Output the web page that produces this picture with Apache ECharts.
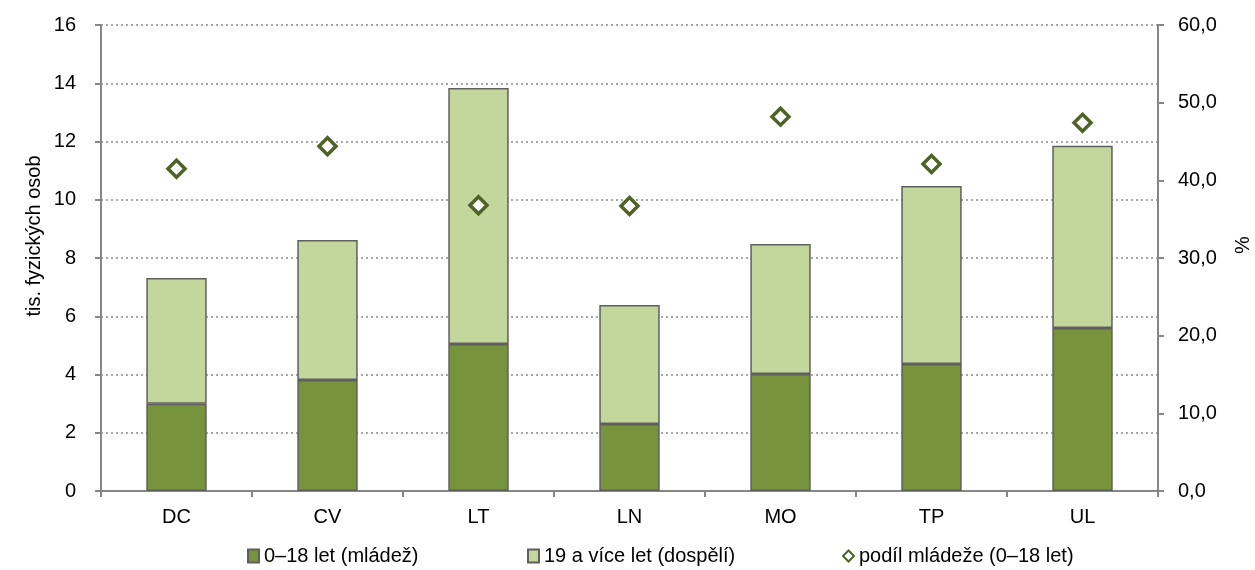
<!DOCTYPE html>
<html><head><meta charset="utf-8">
<script src="https://cdn.jsdelivr.net/npm/echarts@6/dist/echarts.min.js"></script>
<style>html,body{margin:0;padding:0;background:#fff}#c{width:1255px;height:570px}</style>
</head><body><div id="c"></div>
<script>
const categories = ['DC','CV','LT','LN','MO','TP','UL'];
const youth = [3.0, 3.81, 5.05, 2.30, 4.02, 4.36, 5.60];
const adults = [4.31, 4.81, 8.79, 4.09, 4.46, 6.11, 6.25];
const youthShare = [41.5, 44.4, 36.8, 36.7, 48.2, 42.1, 47.4];
const leftTicks = {min:0, max:16, interval:2};
const rightTicks = {min:0, max:60, interval:10};
const names = ['0–18 let (mládež)','19 a více let (dospělí)','podíl mládeže (0–18 let)'];
const leftTitle = 'tis. fyzických osob';
const rightTitle = '%';

const font = 'Liberation Sans, Arial, sans-serif';
const axisGray = '#868686';
const chart = echarts.init(document.getElementById('c'));
const legendBase = {top: 546, itemWidth: 11, itemHeight: 13, itemGap: 4, padding:0,
  textStyle:{fontFamily:font, fontSize:20, color:'#000'}};
chart.setOption({
  animation:false,
  grid:{left:101, right:97, top:25, bottom:79},
  graphic:[
    {type:'text', x:34, y:236, rotation:Math.PI/2,
     style:{text:leftTitle, font:'20px Liberation Sans, Arial, sans-serif', fill:'#000',
       align:'center', verticalAlign:'middle'}},
    {type:'text', x:1243, y:245, rotation:Math.PI/2,
     style:{text:rightTitle, font:'20px Liberation Sans, Arial, sans-serif', fill:'#000',
       align:'center', verticalAlign:'middle'}}
  ],
  legend:[
    Object.assign({}, legendBase, {left:247, data:[{name:names[0], icon:'rect'}]}),
    Object.assign({}, legendBase, {left:527, data:[{name:names[1], icon:'rect'}]}),
    Object.assign({}, legendBase, {left:842, itemWidth:11, itemHeight:11, data:[{name:names[2], icon:'diamond'}]})
  ],
  xAxis:{type:'category', data:categories, boundaryGap:true,
    axisLine:{lineStyle:{color:axisGray, width:2}},
    axisTick:{show:true, length:6, lineStyle:{color:axisGray, width:2}},
    axisLabel:{fontFamily:font, fontSize:20, color:'#000', margin:16}},
  yAxis:[
    {type:'value', min:leftTicks.min, max:leftTicks.max, interval:leftTicks.interval,
     axisLine:{show:true, lineStyle:{color:axisGray, width:2}},
     axisTick:{show:true, length:6, lineStyle:{color:axisGray, width:2}},
     axisLabel:{fontFamily:font, fontSize:20, color:'#000', margin:25},
     splitLine:{show:true, lineStyle:{color:'#8a8a8a', type:[2,3], width:1.5}}},
    {type:'value', min:rightTicks.min, max:rightTicks.max, interval:rightTicks.interval,
     axisLine:{show:true, lineStyle:{color:axisGray, width:2}},
     axisTick:{show:true, length:6, lineStyle:{color:axisGray, width:2}},
     axisLabel:{fontFamily:font, fontSize:20, color:'#000', margin:20,
       formatter:v=>v.toFixed(1).replace('.',',')},
     splitLine:{show:false}}
  ],
  series:[
    {name:names[0], type:'bar', stack:'a', data:youth, barWidth:'40%',
     itemStyle:{color:'#77933C', borderColor:'#5f5f5f', borderWidth:1.5}},
    {name:names[1], type:'bar', stack:'a', data:adults, barWidth:'40%',
     itemStyle:{color:'#C3D69B', borderColor:'#5f5f5f', borderWidth:1.5}},
    {name:names[2], type:'scatter', yAxisIndex:1, data:youthShare, symbol:'diamond',
     symbolSize:[17,17], z:5,
     itemStyle:{color:'#fff', borderColor:'#4F6228', borderWidth:3.5, opacity:1}}
  ]
});
</script></body></html>
